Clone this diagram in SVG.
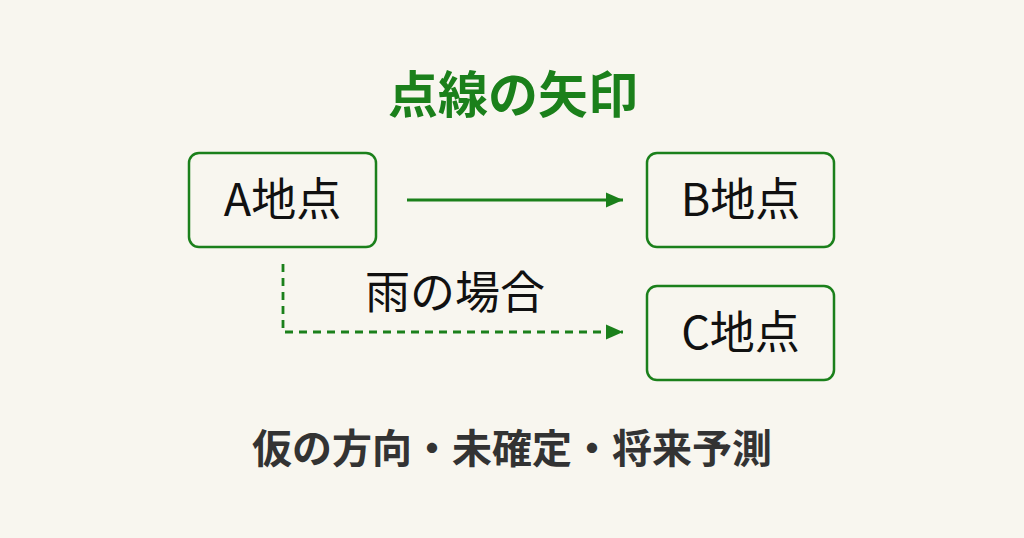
<svg xmlns="http://www.w3.org/2000/svg" width="1024" height="538" viewBox="0 0 1024 538">
<defs>
<style>
.box{fill:none;stroke:#1b801b;stroke-width:2.5}
.lbl{font-family:"Noto Sans CJK JP","Noto Sans",sans-serif;font-size:45px;fill:#111;text-anchor:middle}
.line{stroke:#1b801b;stroke-width:2.8;fill:none}
.dash{stroke-dasharray:8 6}
</style>
<marker id="ah" markerWidth="18" markerHeight="18" viewBox="0 0 18 18" refX="17" refY="9" orient="auto" markerUnits="userSpaceOnUse">
<path d="M0,1.5 L17,9 L0,16.5 Z" fill="#1b801b"/>
</marker>
</defs>
<rect width="1024" height="538" fill="#f8f6ef"/>
<text x="513" y="113" font-family="'Noto Sans CJK JP',sans-serif" font-weight="700" font-size="50" fill="#1b801b" text-anchor="middle">点線の矢印</text>
<g id="nodeA">
<rect class="box" x="189" y="153" width="187" height="94" rx="10"/>
<text class="lbl" x="282.5" y="216">A地点</text>
</g>
<g id="nodeB">
<rect class="box" x="647" y="153" width="187" height="94" rx="10"/>
<text class="lbl" x="740.5" y="216">B地点</text>
</g>
<g id="nodeC">
<rect class="box" x="647" y="286" width="187" height="94" rx="10"/>
<text class="lbl" x="740.5" y="349">C地点</text>
</g>
<g id="connectors">
<line class="line" x1="407" y1="200" x2="623" y2="200" marker-end="url(#ah)"/>
<polyline class="line dash" points="283,264 283,332 623,332" marker-end="url(#ah)"/>
</g>
<text class="lbl" x="455" y="309" font-size="46">雨の場合</text>
<text x="512" y="463" font-family="'Noto Sans CJK JP',sans-serif" font-weight="700" font-size="40" fill="#333" text-anchor="middle">仮の方向・未確定・将来予測</text>
</svg>
